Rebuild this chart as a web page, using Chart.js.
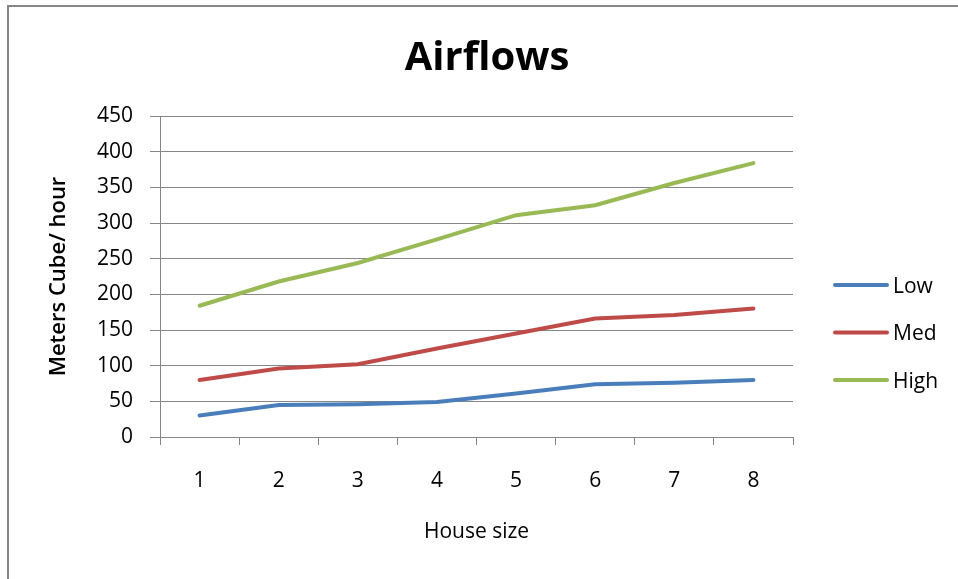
<!DOCTYPE html>
<html>
<head>
<meta charset="utf-8">
<script src="https://cdn.jsdelivr.net/npm/chart.js@4"></script>
<style>
  html, body { margin: 0; padding: 0; background: #fff; }
  #wrap { position: relative; width: 958px; height: 579px; overflow: hidden; }
  #frame { position: absolute; left: 7px; top: 5px; width: 1000px; height: 600px;
           border-left: 2px solid #868686; border-top: 2px solid #868686; }
  canvas { position: absolute; left: 0; top: 0; }
</style>
</head>
<body>
<div id="wrap">
  <div id="frame"></div>
  <canvas id="airflowChart" width="958" height="579"></canvas>
</div>
<script>
const houseSizes = ['1', '2', '3', '4', '5', '6', '7', '8'];
const lowFlow = [30, 45, 46, 49, 61, 74, 76, 80];
const medFlow = [80, 96, 102, 124, 145, 166, 171, 180];
const highFlow = [184, 218, 244, 277, 311, 325, 356, 384];

const gridColor = '#868686';
const font = '"Open Sans", Lato, sans-serif';

// title over the whole picture and legend on the right, like the Excel original
const excelDecor = {
  id: 'excelDecor',
  afterDraw(chart) {
    const c = chart.ctx;
    c.save();
    c.fillStyle = '#000';
    c.textAlign = 'center';
    c.textBaseline = 'alphabetic';
    c.font = 'bold 40px ' + font;
    c.fillText('Airflows', 487, 70);

    c.textAlign = 'left';
    c.font = '21px ' + font;
    chart.data.datasets.forEach((ds, i) => {
      const y = 285 + i * 47.5;
      c.strokeStyle = ds.borderColor;
      c.lineWidth = 4;
      c.lineCap = 'round';
      c.beginPath();
      c.moveTo(835, y);
      c.lineTo(887, y);
      c.stroke();
      c.fillStyle = '#000';
      c.fillText(ds.label, 893, y + 7.5);
    });
    c.restore();
  }
};

new Chart(document.getElementById('airflowChart').getContext('2d'), {
  type: 'line',
  data: {
    labels: houseSizes,
    datasets: [
      { label: 'Low', data: lowFlow, borderColor: '#4A7EBB' },
      { label: 'Med', data: medFlow, borderColor: '#BE4B48' },
      { label: 'High', data: highFlow, borderColor: '#98B954' }
    ]
  },
  options: {
    responsive: false,
    animation: false,
    layout: { padding: { left: 0, right: 165, top: 116, bottom: 0 } },
    elements: {
      line: { borderWidth: 4, tension: 0, borderCapStyle: 'round' },
      point: { radius: 0, hoverRadius: 0 }
    },
    plugins: {
      legend: { display: false },
      tooltip: { enabled: false },
      title: { display: false }
    },
    scales: {
      x: {
        offset: true,
        afterFit: s => { s.height = 142; },
        grid: { offset: true, drawOnChartArea: false, color: gridColor, tickLength: 8 },
        border: { color: gridColor, width: 1 },
        ticks: { color: '#000', padding: 23, font: { family: font, size: 21 } },
        title: {
          display: true, text: 'House size', color: '#000',
          font: { family: font, size: 21, lineHeight: 1.2 },
          padding: { top: 4, bottom: 34 }
        }
      },
      y: {
        min: 0, max: 450,
        afterFit: s => { s.width = 160; },
        grid: { color: gridColor, tickLength: 10 },
        border: { color: gridColor, width: 1 },
        ticks: { stepSize: 50, color: '#000', padding: 17, font: { family: font, size: 21 } },
        title: {
          display: true, text: 'Meters Cube/ hour', color: '#000',
          font: { family: font, size: 22, weight: 600, lineHeight: 1.2 },
          padding: { top: 46, bottom: 0 }
        }
      }
    }
  },
  plugins: [excelDecor]
});
</script>
</body>
</html>
